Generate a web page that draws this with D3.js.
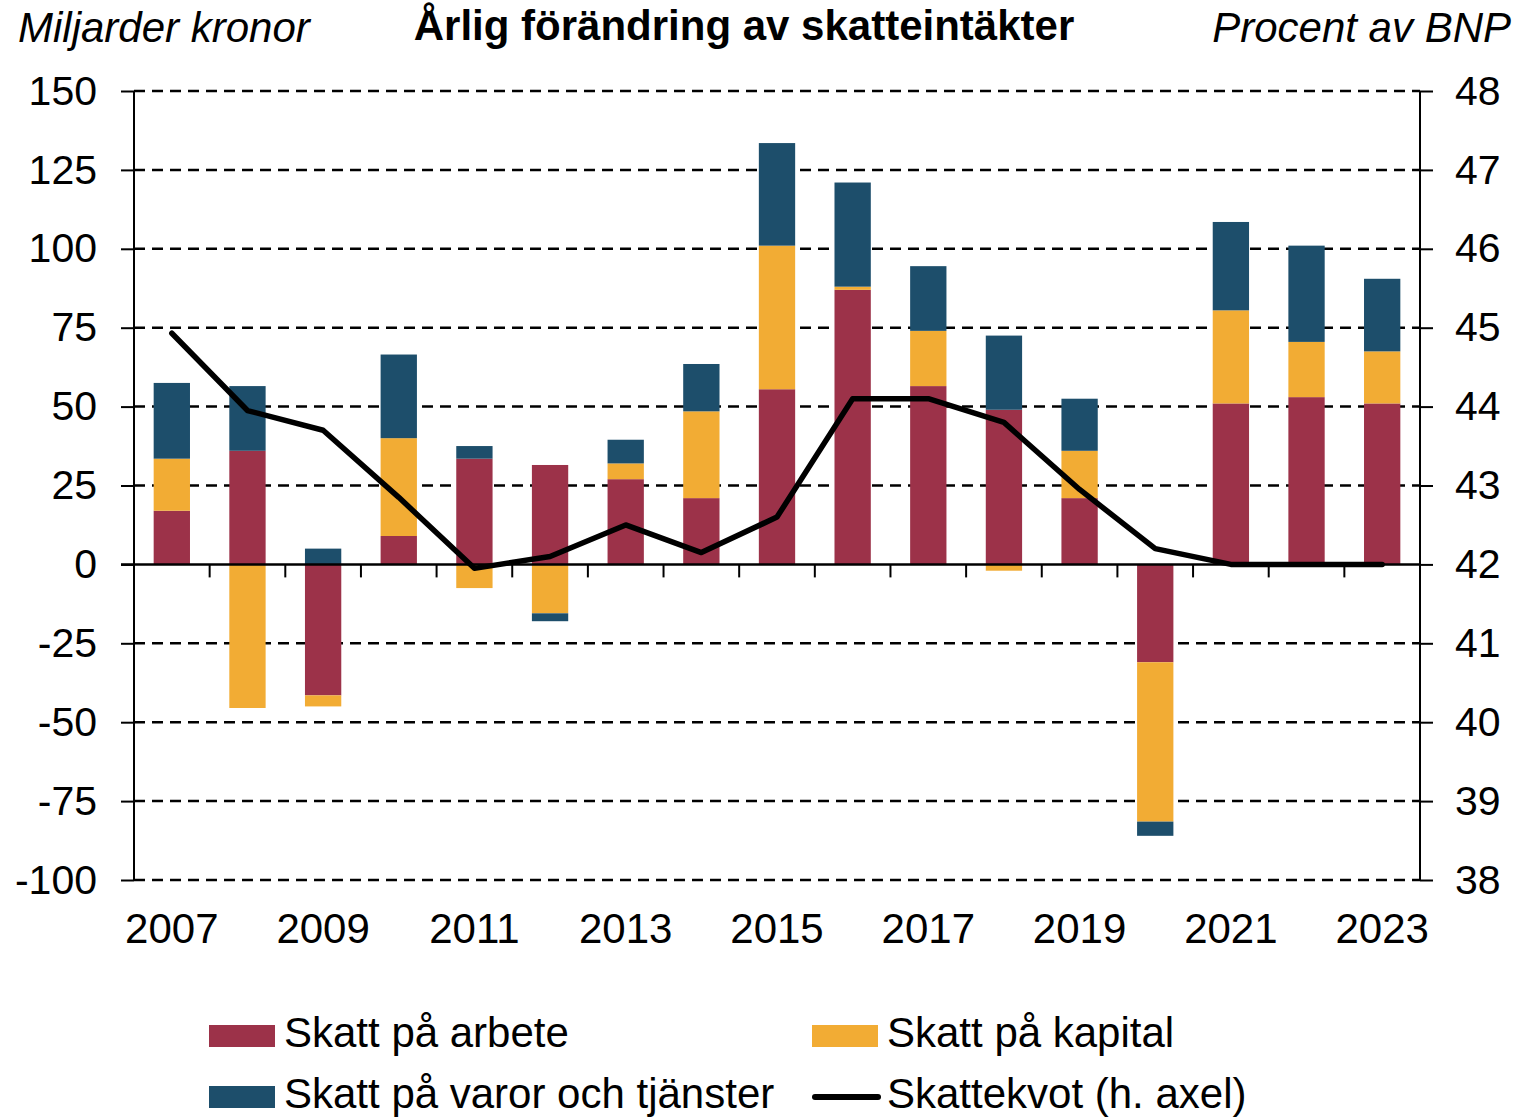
<!DOCTYPE html>
<html>
<head>
<meta charset="utf-8">
<script src="https://cdn.jsdelivr.net/npm/d3@7"></script>
<style>
  body { margin: 0; background: white; }
  text { font-family: "Liberation Sans", Arial, sans-serif; fill: black; }
</style>
</head>
<body>
<svg width="1519" height="1117"></svg>
<script>
var years = [2007, 2008, 2009, 2010, 2011, 2012, 2013, 2014, 2015, 2016, 2017, 2018, 2019, 2020, 2021, 2022, 2023];
var arbete = [17, 36, -41.5, 9, 33.5, 31.5, 27, 21, 55.5, 87, 56.5, 49, 21, -31, 51, 53, 51];
var kapital = [16.5, -45.5, -3.5, 31, -7.5, -15.5, 5, 27.5, 45.5, 1, 17.5, -2, 15, -50.5, 29.5, 17.5, 16.5];
var varor = [24, 20.5, 5, 26.5, 4, -2.5, 7.5, 15, 32.5, 33, 20.5, 23.5, 16.5, -4.5, 28, 30.5, 23];
var skattekvot = [44.93, 43.95, 43.7, 42.85, 41.95, 42.1, 42.5, 42.15, 42.6, 44.1, 44.1, 43.8, 42.95, 42.2, 42.0, 42.0, 42.0];

var leftTicks = [150, 125, 100, 75, 50, 25, 0, -25, -50, -75, -100];
var rightTicks = [48, 47, 46, 45, 44, 43, 42, 41, 40, 39, 38];
var yearLabels = [2007, 2009, 2011, 2013, 2015, 2017, 2019, 2021, 2023];

var seriesNames = ["Skatt på arbete", "Skatt på kapital", "Skatt på varor och tjänster"];
var seriesColors = ["#9c3249", "#f2ac34", "#1d4e6b"];

var svg = d3.select("svg");

var xScale = d3.scaleBand().domain(years).range([134, 1420]).paddingInner(0.52).paddingOuter(0.26);
var yScale = d3.scaleLinear().domain([-100, 150]).range([880, 91]);
var y2Scale = d3.scaleLinear().domain([38, 48]).range([880, 91]);

// Gridlines
svg.append("g")
    .selectAll("line")
    .data(leftTicks.filter(d => d !== 0))
    .join("line")
    .attr("x1", 134)
    .attr("x2", 1420)
    .attr("y1", d => yScale(d))
    .attr("y2", d => yScale(d))
    .style("stroke", "black")
    .style("stroke-width", 2.5)
    .style("stroke-dasharray", "11,7");

// Stacked bars
var rows = years.map((y, i) => ({ year: y, s0: arbete[i], s1: kapital[i], s2: varor[i] }));
var stack = d3.stack().keys(["s0", "s1", "s2"]).offset(d3.stackOffsetDiverging);
var stacked = stack(rows);

svg.append("g")
    .selectAll("g")
    .data(stacked)
    .join("g")
    .attr("fill", (d, i) => seriesColors[i])
    .selectAll("rect")
    .data(d => d)
    .join("rect")
    .attr("x", d => xScale(d.data.year))
    .attr("width", xScale.bandwidth())
    .attr("y", d => yScale(Math.max(d[0], d[1])))
    .attr("height", d => Math.abs(yScale(d[0]) - yScale(d[1])));

// Left axis
svg.append("g")
    .attr("transform", "translate(134,0)")
    .call(d3.axisLeft(yScale).tickValues(leftTicks).tickSize(13).tickPadding(24).tickFormat(d => String(d)))
    .call(g => g.select(".domain").attr("d", "M0," + yScale(-100) + "V" + yScale(150)))
    .call(g => g.selectAll("line").style("stroke-width", 2))
    .call(g => g.select(".domain").style("stroke-width", 2))
    .call(g => g.selectAll("text").style("font-size", "41px").attr("font-family", null));

// Right axis
svg.append("g")
    .attr("transform", "translate(1420,0)")
    .call(d3.axisRight(y2Scale).tickValues(rightTicks).tickSize(13).tickPadding(22))
    .call(g => g.select(".domain").attr("d", "M0," + y2Scale(38) + "V" + y2Scale(48)))
    .call(g => g.selectAll("line").style("stroke-width", 2))
    .call(g => g.select(".domain").style("stroke-width", 2))
    .call(g => g.selectAll("text").style("font-size", "41px").attr("font-family", null));

// Zero line
svg.append("line")
    .attr("x1", 121)
    .attr("x2", 1420)
    .attr("y1", yScale(0))
    .attr("y2", yScale(0))
    .style("stroke", "black")
    .style("stroke-width", 2.5);

// Category tick marks on zero line
var step = xScale.step();
svg.append("g")
    .selectAll("line")
    .data(years.slice(1))
    .join("line")
    .attr("x1", d => xScale(d) - step * xScale.paddingInner() / 2)
    .attr("x2", d => xScale(d) - step * xScale.paddingInner() / 2)
    .attr("y1", yScale(0))
    .attr("y2", yScale(0) + 13)
    .style("stroke", "black")
    .style("stroke-width", 2);

// Year labels
svg.append("g")
    .selectAll("text")
    .data(yearLabels)
    .join("text")
    .attr("x", d => xScale(d) + xScale.bandwidth() / 2)
    .attr("y", 943)
    .attr("text-anchor", "middle")
    .style("font-size", "42px")
    .text(d => d);

// Skattekvot line
var line = d3.line()
    .x((d, i) => xScale(years[i]) + xScale.bandwidth() / 2)
    .y(d => y2Scale(d));

svg.append("path")
    .attr("d", line(skattekvot))
    .attr("fill", "none")
    .attr("stroke", "black")
    .attr("stroke-width", 5.5)
    .attr("stroke-linejoin", "round")
    .attr("stroke-linecap", "round");

// Titles
svg.append("text")
    .attr("x", 744)
    .attr("y", 40)
    .attr("text-anchor", "middle")
    .style("font-size", "42px")
    .style("font-weight", "bold")
    .text("Årlig förändring av skatteintäkter");

svg.append("text")
    .attr("x", 18)
    .attr("y", 42)
    .style("font-size", "42px")
    .style("font-style", "italic")
    .text("Miljarder kronor");

svg.append("text")
    .attr("x", 1511)
    .attr("y", 42)
    .attr("text-anchor", "end")
    .style("font-size", "42px")
    .style("font-style", "italic")
    .text("Procent av BNP");

// Legend
var legendItems = [
    { name: seriesNames[0], color: seriesColors[0], x: 209, y: 1036, type: "rect" },
    { name: seriesNames[1], color: seriesColors[1], x: 812, y: 1036, type: "rect" },
    { name: seriesNames[2], color: seriesColors[2], x: 209, y: 1097, type: "rect" },
    { name: "Skattekvot (h. axel)", color: "black", x: 812, y: 1097, type: "line" }
];

var legend = svg.append("g")
    .selectAll("g")
    .data(legendItems)
    .join("g")
    .attr("transform", d => "translate(" + d.x + "," + d.y + ")");

legend.filter(d => d.type === "rect")
    .append("rect")
    .attr("x", 0)
    .attr("y", -11)
    .attr("width", 66)
    .attr("height", 22)
    .attr("fill", d => d.color);

legend.filter(d => d.type === "line")
    .append("line")
    .attr("x1", 3)
    .attr("x2", 66)
    .attr("y1", 0)
    .attr("y2", 0)
    .style("stroke", "black")
    .style("stroke-width", 6)
    .style("stroke-linecap", "round");

legend.append("text")
    .attr("x", 75)
    .attr("y", 11)
    .style("font-size", "42px")
    .text(d => d.name);
</script>
</body>
</html>
